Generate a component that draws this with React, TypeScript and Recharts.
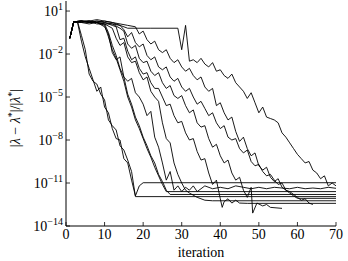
import { LineChart, Line, XAxis, YAxis } from 'recharts'

// each series: [iteration, log10 of relative error]
const s1: [number, number][] = [[1,-0.9],[2,0.25],[3,0.25],[4,-0.7],[5,-1.7],[6,-3.4],[7,-3.9],[8,-4.1],[9,-4.8],[10,-5.2],[11,-6.6],[12,-7.0],[13,-7.3],[14,-8.4],[15,-8.7],[16,-9.4],[17,-10.2],[18,-11.95],[70,-11.95]]
const s2: [number, number][] = [[1,-0.9],[2,0.25],[3,0.2],[4,-1.1],[5,-2.2],[6,-3.0],[7,-3.8],[8,-4.6],[9,-4.3],[10,-5.7],[11,-6.1],[12,-7.2],[13,-7.9],[14,-8.0],[15,-9.3],[16,-9.6],[17,-10.8],[18,-11.9],[19,-11.2],[20,-10.98],[70,-10.98]]
const s3: [number, number][] = [[1,-0.9],[2,0.25],[4,0.3],[6,0.2],[8,0.2],[10,0.0],[11,-0.8],[12,-1.7],[13,-2.3],[14,-3.1],[15,-3.9],[16,-5.0],[17,-5.7],[18,-6.6],[19,-7.2],[20,-7.9],[21,-8.6],[22,-9.2],[23,-9.9],[24,-10.5],[25,-11.1],[26,-11.6],[70,-11.6]]
const s4: [number, number][] = [[1,-0.9],[2,0.25],[4,0.2],[6,0.3],[8,0.1],[10,0.1],[11,-0.5],[12,-1.4],[13,-2.1],[14,-3.0],[15,-3.6],[16,-4.8],[17,-5.5],[18,-6.4],[19,-7.0],[20,-7.8],[21,-8.4],[22,-9.1],[23,-9.6],[24,-10.4],[25,-10.9],[26,-11.5],[27,-11.8],[70,-11.8]]
const s5: [number, number][] = [[1,-0.9],[2,0.25],[4,0.2],[6,0.1],[8,0.2],[10,-0.1],[11,-0.6],[12,-1.9],[13,-2.4],[14,-2.2],[15,-3.6],[16,-3.9],[17,-3.7],[18,-4.7],[19,-5.0],[20,-5.5],[21,-6.3],[22,-6.0],[23,-7.8],[24,-8.5],[25,-9.6],[26,-10.8],[27,-10.2],[28,-11.5],[29,-11.2],[30,-11.6],[31,-11.3],[32,-11.5],[33,-11.2],[34,-11.6],[35,-11.4],[36,-11.2],[38,-11.4],[40,-11.3],[42,-11.4],[44,-11.2],[46,-11.3],[48,-11.4],[50,-11.3],[52,-11.4],[54,-11.3],[56,-11.35],[58,-11.4],[60,-11.3],[62,-11.4],[64,-11.35],[66,-11.4],[68,-11.3],[70,-11.37]]
const s6: [number, number][] = [[1,-0.9],[2,0.25],[4,0.3],[6,0.2],[8,0.2],[10,0.1],[12,-0.2],[13,-0.9],[14,-1.4],[15,-1.2],[16,-2.2],[17,-2.6],[18,-2.5],[19,-3.3],[20,-3.8],[21,-3.6],[22,-4.6],[23,-5.0],[24,-5.3],[25,-6.8],[26,-7.9],[27,-8.2],[28,-9.6],[29,-10.4],[30,-11.0],[31,-11.5],[32,-11.7],[34,-12.0],[36,-12.2],[38,-12.24],[70,-12.24]]
const s7: [number, number][] = [[1,-0.9],[2,0.25],[4,0.3],[6,0.2],[8,0.3],[10,0.2],[12,0.0],[13,-0.1],[14,-1.0],[15,-0.9],[16,-1.8],[17,-2.4],[18,-2.2],[19,-3.0],[20,-3.4],[21,-3.3],[22,-4.0],[23,-4.4],[24,-4.4],[25,-5.0],[26,-5.6],[27,-5.5],[28,-6.3],[29,-6.8],[30,-6.7],[31,-7.5],[32,-8.0],[33,-7.9],[34,-8.8],[35,-9.4],[36,-9.3],[37,-10.3],[38,-11.1],[39,-10.8],[40,-12.1],[40.5,-12.7],[41,-12.3],[42,-12.1],[43,-12.4],[44,-12.2],[45,-12.4],[47,-12.42],[70,-12.42]]
const s8: [number, number][] = [[1,-0.9],[2,0.25],[4,0.2],[6,0.3],[8,0.2],[10,0.1],[12,0.1],[14,-0.2],[15,-0.4],[16,-1.3],[17,-1.6],[18,-1.4],[19,-2.3],[20,-2.6],[21,-2.5],[22,-3.2],[23,-3.5],[24,-3.3],[25,-4.0],[26,-4.4],[27,-4.2],[28,-4.9],[29,-5.1],[30,-4.9],[31,-5.6],[32,-6.1],[33,-5.9],[34,-6.8],[35,-7.1],[36,-7.0],[37,-7.9],[38,-8.5],[39,-8.3],[40,-9.1],[41,-9.6],[42,-9.4],[43,-10.3],[44,-10.8],[45,-10.6],[46,-11.5],[47,-12.0],[48,-11.3],[48.4,-13.1],[49.5,-12.4],[51,-12.6],[52,-12.5],[53,-12.7],[56,-12.77]]
const s9: [number, number][] = [[1,-0.9],[2,0.25],[4,0.3],[6,0.2],[8,0.3],[10,0.2],[12,0.1],[14,0.0],[15,-0.3],[16,-0.8],[17,-0.5],[18,-1.2],[19,-1.5],[20,-1.3],[21,-2.1],[22,-2.4],[23,-2.2],[24,-2.9],[25,-3.1],[26,-2.9],[27,-3.6],[28,-3.9],[29,-3.7],[30,-4.3],[31,-4.6],[32,-4.4],[33,-5.0],[34,-5.5],[35,-5.3],[36,-5.8],[37,-6.3],[38,-6.1],[39,-6.8],[40,-7.2],[41,-7.0],[42,-7.8],[43,-8.0],[44,-7.9],[45,-8.6],[46,-8.9],[47,-8.7],[48,-9.5],[49,-9.8],[50,-9.7],[51,-10.2],[52,-10.5],[53,-10.4],[54,-10.8],[55,-11.1],[56,-11.0],[57,-11.5],[58,-11.6],[59,-11.8],[60,-12.0],[61,-12.2],[62,-12.1],[63,-12.4],[64,-12.5]]
const s10: [number, number][] = [[1,-0.9],[2,0.25],[4,0.3],[6,0.3],[8,0.2],[10,0.3],[12,0.2],[14,0.1],[16,0.0],[18,-0.1],[19,-0.6],[20,-0.4],[21,-1.0],[22,-1.3],[23,-1.1],[24,-1.7],[25,-1.9],[26,-1.7],[27,-2.3],[28,-2.6],[29,-2.4],[30,-2.9],[31,-3.2],[32,-3.0],[33,-3.5],[34,-3.8],[35,-3.6],[36,-4.3],[37,-4.6],[38,-4.4],[39,-5.6],[40,-5.4],[41,-6.1],[42,-6.6],[43,-6.4],[44,-7.4],[45,-8.1],[46,-7.8],[47,-8.6],[48,-9.1],[49,-8.9],[50,-9.8],[51,-10.1],[52,-9.9],[53,-10.6],[54,-10.9],[55,-10.7],[56,-11.3],[57,-11.5],[58,-11.7],[59,-11.9],[60,-12.07],[70,-12.07]]
const s11: [number, number][] = [[1,-0.9],[2,0.25],[4,0.3],[6,0.3],[8,0.4],[10,0.3],[12,0.2],[14,0.0],[16,-0.2],[22,-0.2],[29,-0.2],[30,-1.7],[31,0.0],[32,-2.5],[33,-2.4],[34,-2.6],[35,-2.3],[36,-2.7],[37,-2.9],[38,-2.6],[39,-3.2],[40,-3.1],[41,-3.5],[42,-3.7],[43,-3.4],[44,-4.0],[45,-4.3],[46,-4.6],[47,-5.1],[48,-4.7],[49,-5.4],[50,-6.1],[51,-5.7],[52,-6.4],[53,-6.5],[54,-6.6],[55,-6.8],[56,-7.5],[57,-7.8],[58,-8.2],[59,-8.6],[60,-9.0],[61,-9.3],[62,-9.6],[63,-9.5],[64,-10.1],[65,-10.3],[66,-10.7],[67,-10.5],[68,-11.2],[69,-11.0],[70,-11.2]]

const series = [s1, s2, s3, s4, s5, s6, s7, s8, s9, s10, s11]
const xTicks = [0, 10, 20, 30, 40, 50, 60, 70]
const yExps = [1, -2, -5, -8, -11, -14]
const yTicks = yExps.map(e => Math.pow(10, e))

const FONT = 'Liberation Serif'
const txt = { fontFamily: FONT }

function BottomTick({ x, y, payload }: any) {
  return (
    <g>
      <line x1={x} y1={y} x2={x} y2={y - 4} stroke="#000" strokeWidth={0.8} />
      <text x={x} y={y + 13} textAnchor="middle" style={txt} fontSize={14} fill="#000">
        {payload.value}
      </text>
    </g>
  )
}

function TopTick({ x, y }: any) {
  return <line x1={x} y1={y} x2={x} y2={y + 4} stroke="#000" strokeWidth={0.8} />
}

function LeftTick({ x, y, payload }: any) {
  const e = Math.round(Math.log10(payload.value))
  const sup = e < 0 ? '\u2212' + -e : String(e)
  return (
    <g>
      <line x1={x} y1={y} x2={x + 4} y2={y} stroke="#000" strokeWidth={0.8} />
      <text x={x - 3} y={y + 5} textAnchor="end" style={txt} fontSize={14} fill="#000">
        10
        <tspan fontSize={10} dy={-6}>{sup}</tspan>
      </text>
    </g>
  )
}

function RightTick({ x, y }: any) {
  return <line x1={x} y1={y} x2={x - 4} y2={y} stroke="#000" strokeWidth={0.8} />
}

function YTitle() {
  return (
    <text transform="translate(20,118) rotate(-90)" textAnchor="middle" style={txt} fontSize={14} fill="#000">
      |<tspan fontStyle="italic">λ</tspan> − <tspan fontStyle="italic">λ</tspan>
      <tspan fontSize={10} dy={-5}>*</tspan>
      <tspan dy={5}>|/|</tspan>
      <tspan fontStyle="italic">λ</tspan>
      <tspan fontSize={10} dy={-5}>*</tspan>
      <tspan dy={5}>|</tspan>
    </text>
  )
}

function XTitle() {
  return (
    <text x={201} y={257} textAnchor="middle" style={txt} fontSize={14} fill="#000">
      iteration
    </text>
  )
}

export default function App() {
  return (
    <div style={{ width: 348, height: 261, background: '#fff' }}>
      <style>{'body{margin:0}'}</style>
      <LineChart width={348} height={261} margin={{ top: 1, right: 12, bottom: 0, left: 0 }}>
        <XAxis
          type="number"
          dataKey="x"
          domain={[0, 70]}
          ticks={xTicks}
          height={35}
          tickSize={0}
          tickMargin={0}
          stroke="#000"
          tick={<BottomTick />}
          label={<XTitle />}
        />
        <XAxis
          xAxisId="top"
          orientation="top"
          type="number"
          domain={[0, 70]}
          ticks={xTicks.slice(1, -1)}
          height={0}
          tickSize={0}
          tickMargin={0}
          stroke="#000"
          tick={<TopTick />}
        />
        <YAxis
          type="number"
          scale="log"
          domain={[1e-14, Math.pow(10, 1.7)]}
          allowDataOverflow
          ticks={yTicks}
          width={66}
          tickSize={0}
          tickMargin={0}
          stroke="#000"
          tick={<LeftTick />}
          label={<YTitle />}
        />
        <YAxis
          yAxisId="right"
          orientation="right"
          type="number"
          scale="log"
          domain={[1e-14, Math.pow(10, 1.7)]}
          allowDataOverflow
          ticks={yTicks}
          width={0}
          tickSize={0}
          tickMargin={0}
          stroke="#000"
          tick={<RightTick />}
        />
        {series.map((s, i) => (
          <Line
            key={i}
            data={s.map(([x, e]) => ({ x, y: Math.pow(10, e) }))}
            dataKey="y"
            stroke="#000"
            strokeWidth={0.9}
            dot={false}
            isAnimationActive={false}
          />
        ))}
      </LineChart>
    </div>
  )
}
